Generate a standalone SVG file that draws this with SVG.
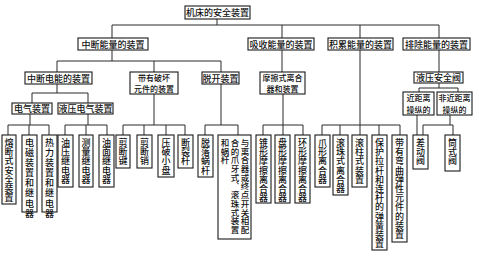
<svg xmlns="http://www.w3.org/2000/svg" width="479" height="270" viewBox="0 0 479 270">
<style>
.b{fill:#fff;stroke:#1a1a1a;stroke-width:1.1}
.t{font-family:"Noto Sans CJK SC","Noto Sans",sans-serif;font-size:9px;fill:#111;text-anchor:middle;dominant-baseline:central;font-weight:500}
.v{font-family:"Noto Sans CJK SC","Noto Sans",sans-serif;font-size:9px;fill:#111;writing-mode:vertical-rl;text-anchor:start;letter-spacing:0.2px;font-weight:500}
.s{font-size:8.5px}
.m{font-size:8px}
.c{fill:none;stroke:#2a2a2a;stroke-width:1}
</style>
<rect width="479" height="270" fill="#fff"/>
<g id="connectors">
<path class="c" d="M217 19V25 M112 25H439 M112 25V38 M282 25V38 M360 25V38 M439 25V38
M112 50V61 M57 61H221 M57 61V72 M154 61V72 M221 61V72
M282 50V72 M439 50V72
M360 50V125 M322 125H400 M322 125V135 M340 125V135 M360 125V135 M379 125V135 M400 125V135
M57 84V93 M32 93H88 M32 93V103 M88 93V103
M30 114V125 M8 125H49 M8 125V135 M29 125V135 M49 125V135
M88 114V125 M65 125H107 M65 125V135 M86 125V135 M107 125V135
M154 94V125 M123 125H185 M123 125V135 M144 125V135 M166 125V135 M185 125V135
M221 84V125 M205 125H238 M205 125V135 M238 125V135
M283 94V125 M263 125H303 M263 125V135 M283 125V135 M303 125V135
M439 82V88 M419 88H458 M419 88V92 M458 88V92
M417 115V135 M450 115V125 M423 125H453 M423 125V135 M453 125V135"/>
</g>
<g id="root"><rect class="b" x="185" y="6" width="65" height="13"/><text class="t" x="217.5" y="12.5">机床的安全装置</text></g>
<g id="n-zhongduan"><rect class="b" x="78" y="38" width="70" height="12"/><text class="t" x="113" y="44">中断能量的装置</text></g>
<g id="n-xishou"><rect class="b" x="248" y="38" width="66" height="12"/><text class="t" x="281" y="44">吸收能量的装置</text></g>
<g id="n-jilei"><rect class="b" x="328" y="38" width="65" height="12"/><text class="t" x="360.5" y="44">积累能量的装置</text></g>
<g id="n-paichu"><rect class="b" x="403" y="38" width="67" height="12"/><text class="t" x="436.5" y="44">排除能量的装置</text></g>
<g id="n-diannneng"><rect class="b" x="25" y="72" width="67" height="12"/><text class="t" x="58.5" y="78">中断电能的装置</text></g>
<g id="n-pohuai"><rect class="b" x="130" y="72" width="48" height="22"/><text class="t m" x="154" y="77.2">带有破坏</text><text class="t m" x="154" y="88.8">元件的装置</text></g>
<g id="n-tuokai"><rect class="b" x="202" y="72" width="37" height="12"/><text class="t" x="220.5" y="78">脱开装置</text></g>
<g id="n-mocashi"><rect class="b" x="260" y="72" width="45" height="22"/><text class="t m" x="282.5" y="77.2">摩擦式离合</text><text class="t m" x="282.5" y="88.8">器和装置</text></g>
<g id="n-yeyafa"><rect class="b" x="414" y="72" width="49" height="11"/><text class="t" x="438.5" y="77.5">液压安全阀</text></g>
<g id="n-dianqi"><rect class="b" x="12" y="103" width="40" height="11"/><text class="t" x="32" y="108.5">电气装置</text></g>
<g id="n-yeyadianqi"><rect class="b" x="58" y="103" width="55" height="11"/><text class="t" x="85.5" y="108.5">液压电气装置</text></g>
<g id="n-jin"><rect class="b" x="403" y="92" width="31" height="23"/><text class="t m" x="418.5" y="97.5">近距离</text><text class="t m" x="418.5" y="109.5">操纵的</text></g>
<g id="n-feijin"><rect class="b" x="437" y="92" width="35" height="23"/><text class="t m" x="454.5" y="97.5">非近距离</text><text class="t m" x="454.5" y="109.5">操纵的</text></g>
<g id="l1"><rect class="b" x="2" y="135" width="14" height="69"/><text class="v" x="9" y="138">熔断式安全装置</text></g>
<g id="l2"><rect class="b" x="22" y="135" width="15" height="77"/><text class="v" x="29.5" y="138" style="letter-spacing:1.1px">电磁装置和继电器</text></g>
<g id="l3"><rect class="b" x="42" y="135" width="15" height="77"/><text class="v" x="49.5" y="138" style="letter-spacing:1.1px">热力装置和继电器</text></g>
<g id="l4"><rect class="b" x="58" y="135" width="15" height="52"/><text class="v" x="65.5" y="138">油压继电器</text></g>
<g id="l5"><rect class="b" x="79" y="135" width="14" height="52"/><text class="v" x="86" y="138">测量继电器</text></g>
<g id="l6"><rect class="b" x="99" y="135" width="15" height="52"/><text class="v" x="106.5" y="138">油面继电器</text></g>
<g id="l7"><rect class="b" x="116" y="135" width="14" height="33"/><text class="v" x="123" y="138">剪断键</text></g>
<g id="l8"><rect class="b" x="137" y="135" width="15" height="33"/><text class="v" x="144.5" y="138">剪断销</text></g>
<g id="l9"><rect class="b" x="158" y="135" width="16" height="42"/><text class="v" x="166" y="138">压破小盘</text></g>
<g id="l10"><rect class="b" x="178" y="135" width="15" height="33"/><text class="v" x="185.5" y="138">断裂杆</text></g>
<g id="l11"><rect class="b" x="198" y="135" width="15" height="42"/><text class="v" x="205.5" y="138">脱落蜗杆</text></g>
<g id="l12"><rect class="b" x="218" y="135" width="33" height="104"/><text class="v s" x="245" y="138.5">与离合器或终点开关相配</text><text class="v s" x="235" y="138.5">合的爪牙式、滚珠式装置</text><text class="v s" x="225" y="138.5">和蜗杆</text></g>
<g id="l13"><rect class="b" x="256" y="135" width="15" height="68"/><text class="v" x="263.5" y="138">锥形摩擦离合器</text></g>
<g id="l14"><rect class="b" x="275" y="135" width="15" height="68"/><text class="v" x="282.5" y="138">盘形摩擦离合器</text></g>
<g id="l15"><rect class="b" x="295" y="135" width="15" height="68"/><text class="v" x="302.5" y="138">环形摩擦离合器</text></g>
<g id="l16"><rect class="b" x="315" y="135" width="15" height="52"/><text class="v" x="322.5" y="138">爪形离合器</text></g>
<g id="l17"><rect class="b" x="333" y="135" width="15" height="60"/><text class="v" x="340.5" y="138">滚珠式离合器</text></g>
<g id="l18"><rect class="b" x="352" y="135" width="15" height="52"/><text class="v" x="359.5" y="138">滚柱式装置</text></g>
<g id="l19"><rect class="b" x="372" y="135" width="15" height="115"/><text class="v" x="379.5" y="138">保护拉杆和连杆的弹簧装置</text></g>
<g id="l20"><rect class="b" x="392" y="135" width="15" height="107"/><text class="v" x="399.5" y="138">带有弯曲弹性元件的装置</text></g>
<g id="l21"><rect class="b" x="413" y="135" width="15" height="34"/><text class="v" x="420.5" y="138">差动阀</text></g>
<g id="l22"><rect class="b" x="445" y="135" width="15" height="36"/><text class="v" x="452.5" y="138">筒式阀</text></g>
</svg>
